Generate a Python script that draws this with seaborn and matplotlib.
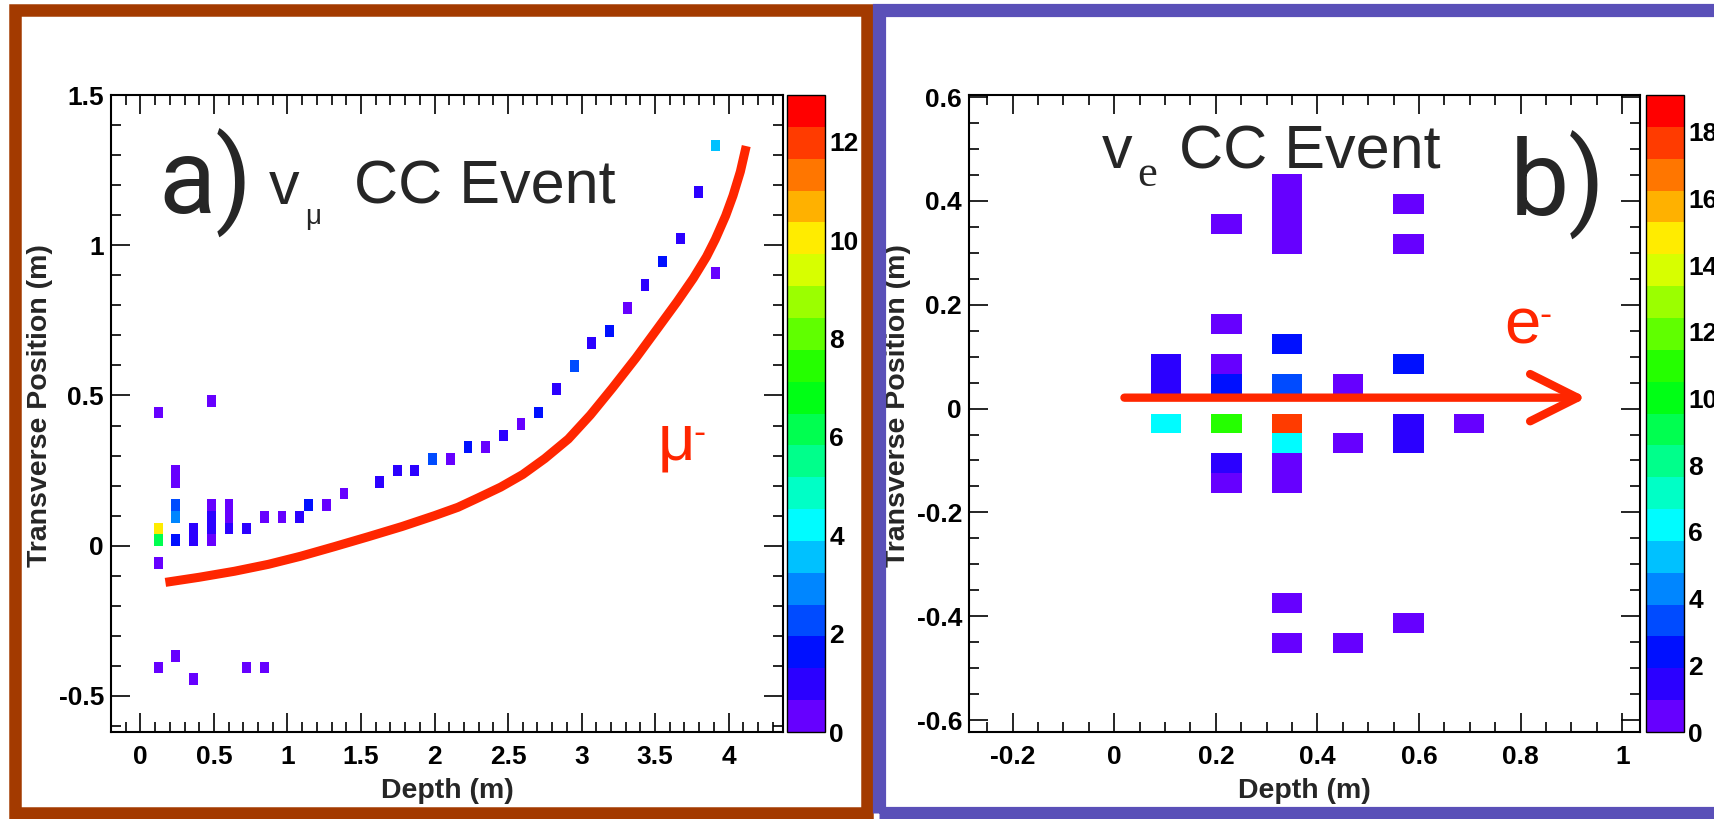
import numpy as np
import pandas as pd
import matplotlib
matplotlib.use("Agg")
import matplotlib.pyplot as plt
from matplotlib.colors import ListedColormap
from matplotlib.patches import Rectangle
from matplotlib.ticker import MultipleLocator, FuncFormatter
import seaborn as sns

# a) numu CC event: hit strips (depth m, transverse m, charge)
numu_depth = [0.12, 0.12, 0.12, 0.12, 0.12,
              0.24, 0.24, 0.24, 0.24, 0.24, 0.24,
              0.36, 0.36, 0.36,
              0.48, 0.48, 0.48, 0.48, 0.48,
              0.60, 0.60, 0.60,
              0.72, 0.72, 0.84, 0.84, 0.96, 1.08, 1.14, 1.26, 1.38,
              1.63, 1.75, 1.87, 1.99, 2.11, 2.23, 2.35, 2.47, 2.59, 2.71,
              2.83, 2.95, 3.07, 3.19, 3.31, 3.43, 3.55, 3.67, 3.79, 3.91, 3.91]
numu_trans = [0.444, 0.058, 0.019, -0.058, -0.405,
              0.251, 0.212, 0.135, 0.097, 0.019, -0.367,
              0.058, 0.019, -0.444,
              0.483, 0.135, 0.097, 0.058, 0.019,
              0.135, 0.097, 0.058,
              0.058, -0.405, 0.097, -0.405, 0.097, 0.097, 0.135, 0.135, 0.174,
              0.212, 0.251, 0.251, 0.290, 0.290, 0.328, 0.328, 0.367, 0.405, 0.444,
              0.521, 0.598, 0.676, 0.714, 0.791, 0.868, 0.946, 1.023, 1.177, 1.331, 0.907]
numu_charge = [0.3, 10.0, 6.1, 0.3, 0.3,
               0.3, 0.3, 2.3, 2.9, 1.6, 0.3,
               1.0, 1.0, 0.3,
               0.3, 0.3, 1.0, 1.0, 0.3,
               0.3, 0.3, 1.0,
               1.0, 0.3, 0.3, 0.3, 0.3, 1.0, 1.6, 0.3, 0.3,
               1.0, 1.0, 1.0, 2.3, 0.3, 1.6, 0.3, 1.0, 0.3, 1.6,
               1.0, 2.3, 1.0, 1.6, 0.3, 1.0, 1.6, 1.0, 1.0, 3.6, 0.3]

# muon track sketch (red curve)
mu_depth = [0.17, 0.40, 0.64, 0.87, 1.09, 1.32, 1.55, 1.78, 2.00, 2.16, 2.30, 2.45, 2.60, 2.75,
            2.91, 3.06, 3.21, 3.37, 3.52, 3.65, 3.76, 3.85, 3.91, 3.98, 4.03, 4.08, 4.12]
mu_trans = [-0.122, -0.105, -0.085, -0.062, -0.035, -0.003, 0.030, 0.064, 0.100, 0.128, 0.160,
            0.195, 0.237, 0.290, 0.355, 0.435, 0.525, 0.625, 0.725, 0.812, 0.890, 0.962,
            1.020, 1.098, 1.165, 1.245, 1.330]

# b) nue CC event
nue_depth = [0.10, 0.10, 0.10,
             0.22, 0.22, 0.22, 0.22, 0.22, 0.22, 0.22,
             0.34, 0.34, 0.34, 0.34, 0.34, 0.34, 0.34, 0.34, 0.34, 0.34, 0.34, 0.34,
             0.46, 0.46, 0.46,
             0.58, 0.58, 0.58, 0.58, 0.58, 0.58,
             0.70]
nue_trans = [0.087, 0.048, -0.029,
             0.356, 0.164, 0.087, 0.048, -0.029, -0.106, -0.144,
             0.433, 0.395, 0.356, 0.318, 0.125, 0.048, -0.029, -0.067, -0.106, -0.144, -0.375, -0.452,
             0.048, -0.067, -0.452,
             0.395, 0.318, 0.087, -0.029, -0.067, -0.414,
             -0.029]
nue_charge = [1.4, 1.4, 6.2,
              0.5, 0.5, 0.5, 2.4, 11.0, 1.4, 0.5,
              0.5, 0.5, 0.5, 0.5, 2.4, 3.3, 17.7, 6.2, 0.5, 0.5, 0.5, 0.5,
              0.5, 0.5, 0.5,
              0.5, 0.5, 2.4, 1.4, 1.4, 0.5,
              0.5]

# electron direction arrow
e_depth = [0.02, 0.93]
e_trans = [0.021, 0.021]

# ROOT-like 20 step rainbow palette
root_colors = ["#6600ff", "#2b00ff", "#0010ff", "#004bff", "#0086ff", "#00c1ff", "#00fcff",
               "#00ffc6", "#00ff8b", "#00ff50", "#00ff15", "#25ff00", "#60ff00", "#9bff00",
               "#d7ff00", "#ffec00", "#ffb100", "#ff7600", "#ff3b00", "#ff0000"]
root_cmap = ListedColormap(root_colors)
red = "#ff2600"

sns.set_theme(style="ticks", rc={"axes.edgecolor": "black", "xtick.color": "black",
                                 "ytick.color": "black", "axes.unicode_minus": False})
plt.rcParams["font.family"] = ["Liberation Sans", "DejaVu Sans"]
plt.rcParams["font.weight"] = "bold"

W, H = 1714, 819
fig = plt.figure(figsize=(W / 100, H / 100), dpi=100)


def box(x0, y0, x1, y1):
    return [x0 / W, 1 - y1 / H, (x1 - x0) / W, (y1 - y0) / H]


ax_a = fig.add_axes(box(111, 95, 783, 732))
cax_a = fig.add_axes(box(787, 95, 825, 732))
ax_b = fig.add_axes(box(969, 95, 1640, 732))
cax_b = fig.add_axes(box(1646, 95, 1684, 732))

df_a = pd.DataFrame({"depth": numu_depth, "trans": numu_trans, "q": numu_charge})
df_b = pd.DataFrame({"depth": nue_depth, "trans": nue_trans, "q": nue_charge})

# detector binning: plane pitch along depth, strip width across
xa_edges = -0.0301 + 0.0602 * np.arange(0, 70)
ya_edges = 0.0386 * np.arange(-13, 37)
xb_edges = 0.072 + 0.0597 * np.arange(0, 12)
yb_edges = -0.0095 + 0.0385 * np.arange(-13, 14)

sns.histplot(data=df_a, x="depth", y="trans", weights="q", bins=[xa_edges, ya_edges],
             cmap=root_cmap, vmin=0, vmax=12.95, cbar=True, cbar_ax=cax_a, ax=ax_a)
sns.histplot(data=df_b, x="depth", y="trans", weights="q", bins=[xb_edges, yb_edges],
             cmap=root_cmap, vmin=0, vmax=19.1, cbar=True, cbar_ax=cax_b, ax=ax_b)

sns.lineplot(x=mu_depth, y=mu_trans, sort=False, color=red, linewidth=6.5,
             solid_capstyle="butt", solid_joinstyle="round", ax=ax_a)
ax_b.annotate("", xy=(e_depth[1], e_trans[1]), xytext=(e_depth[0], e_trans[0]),
              arrowprops=dict(arrowstyle="->,head_length=3.4,head_width=1.7", lw=6,
                              color=red, mutation_scale=10, shrinkA=0, shrinkB=0))

fmt = FuncFormatter(lambda v, p: "%g" % round(v, 3))

ax_a.set_xlim(-0.2, 4.37)
ax_a.set_ylim(-0.62, 1.5)
ax_a.xaxis.set_major_locator(MultipleLocator(0.5))
ax_a.xaxis.set_minor_locator(MultipleLocator(0.1))
ax_a.yaxis.set_major_locator(MultipleLocator(0.5))
ax_a.yaxis.set_minor_locator(MultipleLocator(0.1))

ax_b.set_xlim(-0.286, 1.035)
ax_b.set_ylim(-0.623, 0.604)
ax_b.xaxis.set_major_locator(MultipleLocator(0.2))
ax_b.xaxis.set_minor_locator(MultipleLocator(0.05))
ax_b.yaxis.set_major_locator(MultipleLocator(0.2))
ax_b.yaxis.set_minor_locator(MultipleLocator(0.05))

for ax in (ax_a, ax_b):
    ax.xaxis.set_major_formatter(fmt)
    ax.yaxis.set_major_formatter(fmt)
    ax.tick_params(which="both", direction="in", top=True, right=True, width=1.2,
                   labelsize=19)
    ax.tick_params(which="major", length=14)
    ax.tick_params(which="minor", length=7)
    ax.tick_params(axis="x", pad=9)
    ax.tick_params(axis="y", pad=5)
    for s in ax.spines.values():
        s.set_visible(True)
        s.set_linewidth(1.5)
    ax.set_xlabel("Depth (m)", fontsize=20.5, fontweight="bold")
    ax.set_ylabel("Transverse Position (m)", fontsize=20.5, fontweight="bold")
    ax.xaxis.set_label_coords(0.5, -0.072)
    ax.yaxis.set_label_coords(-0.086, 0.512)

for cax, top in ((cax_a, 12), (cax_b, 18)):
    cax.set_yticks(np.arange(0, top + 1, 2))
    cax.yaxis.set_major_formatter(fmt)
    cax.minorticks_off()
    cax.tick_params(axis="y", direction="in", length=15, width=1.2, labelsize=19, pad=3)
    for s in cax.spines.values():
        s.set_linewidth(1)

# panel annotations
big = dict(family=["Roboto", "Liberation Sans", "DejaVu Sans"], fontweight="normal")
plain = dict(family=["Liberation Sans", "DejaVu Sans"], fontweight="normal")

ax_a.text(0.122, 1.105, "a)", fontsize=76, va="baseline", **big)
ax_a.text(0.876, 1.138, "v", fontsize=44, va="baseline", **plain)
ax_a.text(1.12, 1.072, "μ", fontsize=20, va="baseline", **plain)
ax_a.text(1.452, 1.138, "CC Event", fontsize=44, va="baseline", **plain)
ax_a.text(3.517, 0.288, "μ", fontsize=47, color=red, va="baseline", **plain)
ax_a.text(3.762, 0.372, "-", fontsize=26, color=red, va="center", **plain)

ax_b.text(0.779, 0.371, "b)", fontsize=76, va="baseline", **big)
ax_b.text(-0.024, 0.463, "v", fontsize=44, va="baseline", **plain)
ax_b.text(0.045, 0.429, "e", fontsize=32, va="baseline",
          family=["Liberation Serif", "DejaVu Serif"], fontweight="normal")
ax_b.text(0.127, 0.462, "CC Event", fontsize=44, va="baseline", **plain)
ax_b.text(0.767, 0.125, "e", fontsize=47, color=red, va="baseline", **plain)
ax_b.text(0.836, 0.179, "-", fontsize=26, color=red, va="center", **plain)

# coloured frames around the two panels
fig.add_artist(Rectangle((15 / W, 1 - 812.5 / H), (867 - 15) / W, (812.5 - 9.5) / H,
                         transform=fig.transFigure, fill=False, lw=9, edgecolor="#a33a00"))
fig.add_artist(Rectangle((878.5 / W, 1 - 812.5 / H), (1722 - 878.5) / W, (812.5 - 9.5) / H,
                         transform=fig.transFigure, fill=False, lw=9.5, edgecolor="#5a50b8"))

fig.savefig("out.png", dpi=100)
